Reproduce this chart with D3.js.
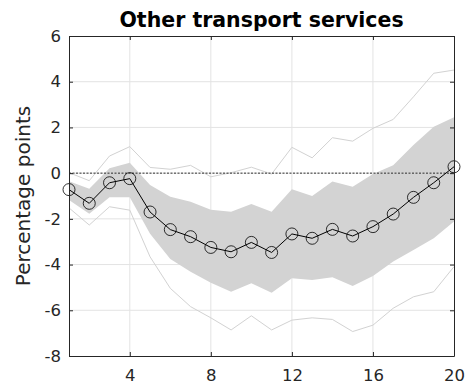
<!DOCTYPE html>
<html>
<head>
<meta charset="utf-8">
<script src="https://cdn.jsdelivr.net/npm/d3@7"></script>
<style>
  html, body { margin: 0; padding: 0; background: #fff; }
  svg { display: block; font-family: "DejaVu Sans", sans-serif; }
</style>
</head>
<body>
<div id="chart"></div>
<script>
// Impulse response: horizons, point estimate, inner band and outer bounds
const horizons = [1,2,3,4,5,6,7,8,9,10,11,12,13,14,15,16,17,18,19,20];
const response = [-0.72,-1.32,-0.42,-0.24,-1.70,-2.47,-2.78,-3.25,-3.44,-3.03,-3.47,-2.66,-2.85,-2.46,-2.75,-2.34,-1.79,-1.06,-0.42,0.28];
const bandUpper = [-0.35,-0.68,0.21,0.46,-0.52,-1.03,-1.25,-1.60,-1.69,-1.35,-1.69,-0.71,-1.00,-0.37,-0.59,-0.04,0.35,1.23,2.03,2.44];
const bandLower = [-1.18,-1.78,-1.05,-1.05,-2.65,-3.76,-4.31,-4.79,-5.19,-4.82,-5.23,-4.60,-4.68,-4.56,-4.94,-4.50,-3.87,-3.36,-2.85,-2.12];
const outerUpper = [0.02,-0.33,0.75,1.16,0.25,0.17,0.34,-0.16,0.02,0.26,-0.04,1.13,0.67,1.55,1.40,1.96,2.35,3.34,4.37,4.51];
const outerLower = [-1.52,-2.27,-1.47,-1.62,-3.66,-5.04,-5.84,-6.33,-6.86,-6.24,-6.86,-6.43,-6.33,-6.40,-6.93,-6.65,-5.91,-5.41,-5.19,-4.09];
const xTicks = [4,8,12,16,20];
const yTicks = [-8,-6,-4,-2,0,2,4,6];
const titleText = "Other transport services";
const yLabelText = "Percentage points";

const W = 468, H = 390;
const m = { left: 69, right: 454, top: 36, bottom: 356 };

const svg = d3.select("#chart").append("svg").attr("width", W).attr("height", H);

const x = d3.scaleLinear().domain([1, 20]).range([m.left, m.right]);
const y = d3.scaleLinear().domain([-8, 6]).range([m.bottom, m.top]);

const axisColor = "#262626";
const plot = svg.append("g");

// grid
plot.append("g").selectAll("line").data(xTicks.filter(t => t < 20)).join("line")
  .attr("x1", d => x(d)).attr("x2", d => x(d))
  .attr("y1", m.top).attr("y2", m.bottom)
  .attr("stroke", "#e3e3e3").attr("stroke-width", 1);
plot.append("g").selectAll("line").data(yTicks.filter(t => t > -8 && t < 6)).join("line")
  .attr("x1", m.left).attr("x2", m.right)
  .attr("y1", d => y(d)).attr("y2", d => y(d))
  .attr("stroke", "#e3e3e3").attr("stroke-width", 1);

const rows = horizons.map((h, i) => ({h, r: response[i], bu: bandUpper[i], bl: bandLower[i], ou: outerUpper[i], ol: outerLower[i]}));

// shaded band
plot.append("path").datum(rows)
  .attr("fill", "#d3d3d3")
  .attr("d", d3.area().x(d => x(d.h)).y0(d => y(d.bl)).y1(d => y(d.bu)));

// outer bounds
const lineOf = key => d3.line().x(d => x(d.h)).y(d => y(d[key]));
["ou", "ol"].forEach(k => {
  plot.append("path").datum(rows)
    .attr("fill", "none").attr("stroke", "#d2d2d2").attr("stroke-width", 1)
    .attr("d", lineOf(k));
});

// zero reference line
plot.append("line")
  .attr("x1", m.left).attr("x2", m.right).attr("y1", y(0)).attr("y2", y(0))
  .attr("stroke", "#000").attr("stroke-width", 0.8).attr("stroke-dasharray", "2,1.5");

// point estimate with markers
plot.append("path").datum(rows)
  .attr("fill", "none").attr("stroke", "#000").attr("stroke-width", 1)
  .attr("d", lineOf("r"));
plot.append("g").selectAll("circle").data(rows).join("circle")
  .attr("cx", d => x(d.h)).attr("cy", d => y(d.r)).attr("r", 6)
  .attr("fill", "none").attr("stroke", "#000").attr("stroke-width", 0.8);

// axes (ticks inside, full box)
const tickLen = 4;
const fmt = d => String(d);
const xb = svg.append("g").attr("transform", `translate(0,${m.bottom})`)
  .call(d3.axisBottom(x).tickValues(xTicks).tickFormat(fmt).tickSizeInner(-tickLen).tickSizeOuter(0).tickPadding(13));
const xt = svg.append("g").attr("transform", `translate(0,${m.top})`)
  .call(d3.axisTop(x).tickValues(xTicks).tickSizeInner(-tickLen).tickSizeOuter(0).tickFormat(""));
const yl = svg.append("g").attr("transform", `translate(${m.left},0)`)
  .call(d3.axisLeft(y).tickValues(yTicks).tickFormat(fmt).tickSizeInner(-tickLen).tickSizeOuter(0).tickPadding(8));
const yr = svg.append("g").attr("transform", `translate(${m.right},0)`)
  .call(d3.axisRight(y).tickValues(yTicks).tickSizeInner(-tickLen).tickSizeOuter(0).tickFormat(""));

[xb, xt, yl, yr].forEach(g => {
  g.select(".domain").attr("stroke", axisColor).attr("stroke-width", 1);
  g.selectAll(".tick line").attr("stroke", axisColor);
  g.selectAll(".tick text").attr("fill", axisColor)
    .style("font-family", "'DejaVu Sans', sans-serif").style("font-size", "16.5px");
});
xb.selectAll(".tick text").attr("dy", "0.71em");

// title
svg.append("text")
  .attr("x", (m.left + m.right) / 2).attr("y", 27)
  .attr("text-anchor", "middle")
  .style("font-size", "20.5px").style("font-weight", "bold").attr("fill", "#000")
  .text(titleText);

// y-axis label
svg.append("text")
  .attr("transform", `translate(30,${(m.top + m.bottom) / 2}) rotate(-90)`)
  .attr("text-anchor", "middle")
  .style("font-size", "20px").attr("fill", axisColor)
  .text(yLabelText);
</script>
</body>
</html>
